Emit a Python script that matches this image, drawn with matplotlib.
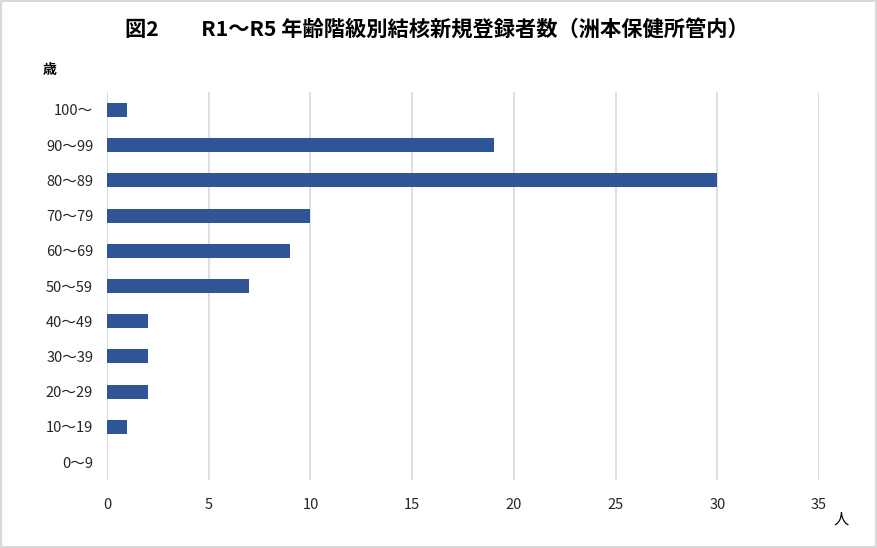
import matplotlib
matplotlib.use("Agg")
import matplotlib.pyplot as plt
from matplotlib.patches import Rectangle

plt.rcParams['font.family'] = ['Noto Sans CJK JP', 'DejaVu Sans']

# 年齢階級（下から上）
age_groups = ['0～9', '10～19', '20～29', '30～39', '40～49', '50～59',
              '60～69', '70～79', '80～89', '90～99', '100～']
counts = [0, 1, 2, 2, 2, 7, 9, 10, 30, 19, 1]
x_ticks = [0, 5, 10, 15, 20, 25, 30, 35]

fig = plt.figure(figsize=(8.78, 5.48), dpi=100)
ax = fig.add_axes([0.1219, 0.1248, 0.8109, 0.7066])

ax.barh(age_groups, counts, height=0.4, color='#2F5597', zorder=3)

ax.set_xlim(0, 35)
ax.set_ylim(-0.5, len(age_groups) - 0.5)
ax.set_xticks(x_ticks)
ax.grid(axis='x', color='#D9D9D9', linewidth=1.2, zorder=0)
ax.axvline(0, color='#D9D9D9', linewidth=1.2, zorder=1)
for s in ax.spines.values():
    s.set_visible(False)
ax.tick_params(length=0, labelsize=10.5, colors='#262626')
ax.tick_params(axis='x', pad=13)
ax.tick_params(axis='y', pad=10)

fig.text(0.498, 0.945, '図2　　R1～R5 年齢階級別結核新規登録者数（洲本保健所管内）',
         ha='center', va='center', fontsize=15.3, fontweight='bold')
fig.text(0.057, 0.872, '歳', ha='center', va='center', fontsize=10, fontweight='bold')
fig.text(0.958, 0.052, '人', ha='center', va='center', fontsize=11)

# 枠線
fig.patches.append(Rectangle((0.001, 0.002), 0.997, 0.996, transform=fig.transFigure,
                             fill=False, edgecolor='#D9D9D9', linewidth=1.5))

fig.savefig('out.png', dpi=100)
